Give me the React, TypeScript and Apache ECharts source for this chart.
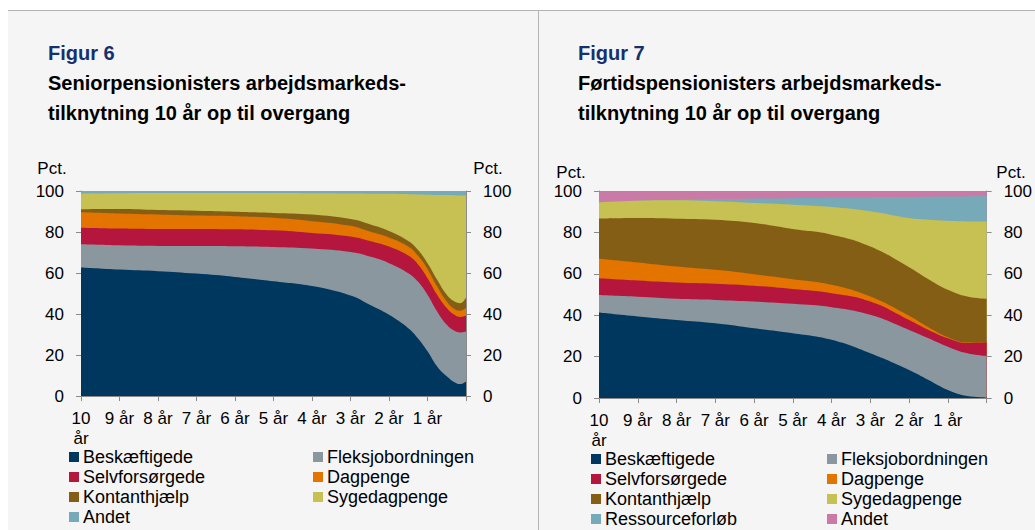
import React, { useEffect, useRef } from "react";
import * as echarts from "echarts";

// ---- Data ----
const seriesNamesFig6 = ["Beskæftigede", "Fleksjobordningen", "Selvforsørgede", "Dagpenge", "Kontanthjælp", "Sygedagpenge", "Andet"];
const seriesColorsFig6 = ["#00375F", "#8B979F", "#B5163E", "#E37400", "#855E16", "#C6C152", "#77AAB8"];
// years into the 10-year window before transition (0 = 10 år before, 10 = overgang)
const xFig6 = [0, 1, 2, 3, 4, 5, 6, 7, 7.5, 8, 8.5, 8.75, 9, 9.25, 9.5, 9.7, 9.85, 10];
const beskaeftigede6 = [62.7, 61.7, 60.9, 59.7, 58.1, 56.0, 53.6, 49.0, 44.5, 39.6, 33.1, 28.2, 21.8, 14.4, 9.6, 6.7, 5.8, 7.1];
const fleksjob6 = [11.3, 11.8, 12.3, 13.5, 15.0, 16.7, 18.3, 21.2, 23.5, 25.2, 26.8, 27.6, 27.6, 26.8, 25.1, 25.1, 25.2, 24.4];
const selvforsoergede6 = [8.1, 8.2, 8.3, 8.3, 8.2, 8.1, 7.6, 7.6, 7.6, 8.1, 8.6, 8.5, 8.1, 8.2, 8.2, 7.8, 7.5, 7.6];
const dagpenge6 = [7.5, 7.3, 7.0, 6.5, 6.4, 6.1, 5.8, 5.2, 4.6, 4.4, 4.4, 4.2, 4.5, 4.0, 3.2, 2.8, 3.1, 3.8];
const kontanthjaelp6 = [1.5, 2.2, 2.2, 2.4, 2.2, 2.4, 3.2, 3.3, 3.6, 3.2, 2.7, 2.8, 2.8, 3.3, 3.3, 3.7, 3.7, 5.2];
const sygedagpenge6 = [7.6, 7.7, 8.3, 8.6, 9.1, 9.7, 10.4, 12.5, 14.9, 18.1, 22.8, 27.0, 33.4, 41.4, 48.6, 51.8, 52.5, 49.7];
const andet6 = [1.3, 1.1, 1.0, 1.0, 1.0, 1.0, 1.1, 1.2, 1.3, 1.4, 1.6, 1.7, 1.8, 1.9, 2.0, 2.1, 2.2, 2.2];

const seriesNamesFig7 = ["Beskæftigede", "Fleksjobordningen", "Selvforsørgede", "Dagpenge", "Kontanthjælp", "Sygedagpenge", "Ressourceforløb", "Andet"];
const seriesColorsFig7 = ["#00375F", "#8B979F", "#B5163E", "#E37400", "#855E16", "#C6C152", "#77AAB8", "#C97AA6"];
const xFig7 = [0, 1, 2, 3, 4, 5, 6, 7, 8, 8.5, 9, 9.5, 10];
const beskaeftigede7 = [41.3, 39.4, 37.7, 36.1, 33.7, 31.3, 28.1, 21.6, 13.5, 8.7, 3.9, 1.0, 0.3];
const fleksjob7 = [8.4, 9.5, 10.2, 11.3, 12.9, 14.2, 15.8, 18.6, 19.4, 20.2, 20.9, 20.6, 20.0];
const selvforsoergede7 = [8.2, 7.9, 7.9, 7.8, 7.6, 7.1, 6.7, 6.4, 4.8, 4.0, 4.1, 5.0, 6.5];
const dagpenge7 = [9.4, 8.7, 7.7, 6.7, 5.6, 4.8, 4.1, 2.4, 2.0, 1.3, 0.5, 0.2, 0.0];
const kontanthjaelp7 = [19.3, 21.4, 23.1, 24.2, 24.7, 24.2, 24.2, 24.2, 23.5, 23.2, 22.9, 22.2, 21.1];
const sygedagpenge7 = [7.9, 8.4, 8.9, 8.9, 9.7, 11.8, 13.4, 17.0, 23.7, 28.7, 33.3, 36.3, 37.4];
const ressourceforloeb7 = [0, 0, 0.3, 1.1, 2.1, 3.1, 4.5, 6.7, 10.2, 11.1, 11.7, 12.1, 12.3];
const andet7 = [5.5, 4.7, 4.2, 3.9, 3.7, 3.5, 3.2, 3.1, 2.9, 2.8, 2.7, 2.6, 2.4];

const xTickLabels = ["10\når", "9 år", "8 år", "7 år", "6 år", "5 år", "4 år", "3 år", "2 år", "1 år", ""];
const yTicks = { min: 0, max: 100, interval: 20 };

const FONT = '"Liberation Sans", Arial, Helvetica, sans-serif';

// Stacked areas: each series is drawn as its cumulative top, filled down to the axis,
// painted from the top layer downwards so that lower layers cover the upper ones.
function buildSeries(names: string[], colors: string[], xs: number[], values: number[][], gridIdx: number) {
  const cumulative: number[][] = [];
  values.forEach((arr, i) => {
    cumulative.push(arr.map((v, j) => (i === 0 ? v : cumulative[i - 1][j] + v)));
  });
  const out: any[] = [];
  for (let i = names.length - 1; i >= 0; i--) {
    out.push({
      name: names[i],
      type: "line",
      xAxisIndex: gridIdx,
      yAxisIndex: gridIdx * 2,
      smooth: 0.45,
      showSymbol: false,
      symbol: "none",
      z: 2 + (names.length - i) * 0.01,
      lineStyle: { width: 0 },
      itemStyle: { color: colors[i] },
      areaStyle: { color: colors[i], opacity: 1, origin: "start" },
      data: xs.map((x, j) => [x, Math.round(cumulative[i][j] * 100) / 100]),
    });
  }
  return out;
}

function buildLegends(names: string[], colors: string[], leftCol: number, rightCol: number, top: number) {
  const col1: any[] = [];
  const col2: any[] = [];
  names.forEach((n, i) => {
    const item = { name: n, itemStyle: { color: colors[i] } };
    if (i % 2 === 0) col1.push(item);
    else col2.push(item);
  });
  const base = {
    orient: "vertical",
    top,
    padding: 0,
    itemWidth: 10,
    itemHeight: 10,
    itemGap: 2,
    icon: "rect",
    selectedMode: false,
    textStyle: { fontFamily: FONT, fontSize: 18, color: "#000", lineHeight: 18, padding: [0, 0, 0, -1] },
  };
  return [
    { ...base, left: leftCol, data: col1 },
    { ...base, left: rightCol, data: col2 },
  ];
}

function xAxisFor(gridIndex: number) {
  return {
    type: "value",
    gridIndex,
    min: 0,
    max: 10,
    interval: 1,
    axisLine: { show: true, lineStyle: { color: "#8a8a8a", width: 1 } },
    axisTick: { show: true, length: 5, lineStyle: { color: "#8a8a8a" } },
    splitLine: { show: false },
    axisLabel: {
      margin: 12,
      fontFamily: FONT,
      fontSize: 17,
      lineHeight: 20,
      color: "#000",
      showMaxLabel: true,
      showMinLabel: true,
      formatter: (v: number) => xTickLabels[Math.round(v)] ?? "",
    },
  };
}

function yAxisFor(gridIndex: number, position: "left" | "right") {
  return {
    type: "value",
    gridIndex,
    position,
    ...yTicks,
    axisLine: { show: true, lineStyle: { color: "#8a8a8a", width: 1 } },
    axisTick: { show: true, length: 5, lineStyle: { color: "#8a8a8a" } },
    splitLine: { show: false },
    axisLabel: { margin: 17, fontFamily: FONT, fontSize: 17, color: "#000" },
  };
}

function textEl(text: string, x: number, y: number, opts: any = {}) {
  return {
    type: "text",
    x,
    y,
    silent: true,
    style: {
      text,
      fill: opts.fill || "#000",
      font: opts.font || `17px ${FONT}`,
      align: opts.align || "left",
      verticalAlign: "middle",
    },
  };
}

export default function App() {
  const ref = useRef<HTMLDivElement>(null);
  useEffect(() => {
    document.body.style.margin = "0";
    if (!ref.current) return;
    const chart = echarts.init(ref.current, undefined, { renderer: "svg" });
    const values6 = [beskaeftigede6, fleksjob6, selvforsoergede6, dagpenge6, kontanthjaelp6, sygedagpenge6, andet6];
    const values7 = [beskaeftigede7, fleksjob7, selvforsoergede7, dagpenge7, kontanthjaelp7, sygedagpenge7, ressourceforloeb7, andet7];
    const titleFont = `bold 20px ${FONT}`;
    const option: any = {
      animation: false,
      backgroundColor: "#ffffff",
      graphic: [
        { type: "rect", silent: true, z: -10, shape: { x: 8, y: 10, width: 1027, height: 520 }, style: { fill: "#f5f5f5" } },
        { type: "line", silent: true, z: -9, shape: { x1: 8, y1: 10.5, x2: 1035, y2: 10.5 }, style: { stroke: "#b3b3b3", lineWidth: 1 } },
        { type: "line", silent: true, z: -9, shape: { x1: 538.5, y1: 10, x2: 538.5, y2: 530 }, style: { stroke: "#b3b3b3", lineWidth: 1 } },
        textEl("Figur 6", 48, 53, { font: titleFont, fill: "#14306E" }),
        textEl("Seniorpensionisters arbejdsmarkeds-", 48, 83, { font: titleFont }),
        textEl("tilknytning 10 år op til overgang", 48, 113, { font: titleFont }),
        textEl("Figur 7", 578, 53, { font: titleFont, fill: "#14306E" }),
        textEl("Førtidspensionisters arbejdsmarkeds-", 578, 83, { font: titleFont }),
        textEl("tilknytning 10 år op til overgang", 578, 113, { font: titleFont }),
        textEl("Pct.", 52, 168, { align: "center" }),
        textEl("Pct.", 488, 168, { align: "center" }),
        textEl("Pct.", 571, 172, { align: "center" }),
        textEl("Pct.", 1011, 172, { align: "center" }),
      ],
      grid: [
        { left: 81, top: 191, width: 385, height: 205 },
        { left: 599, top: 191, width: 389, height: 207 },
      ],
      xAxis: [xAxisFor(0), xAxisFor(1)],
      yAxis: [yAxisFor(0, "left"), yAxisFor(0, "right"), yAxisFor(1, "left"), yAxisFor(1, "right")],
      legend: [
        ...buildLegends(seriesNamesFig6, seriesColorsFig6, 69, 313, 448),
        ...buildLegends(seriesNamesFig7, seriesColorsFig7, 591, 827, 450),
      ],
      series: [
        ...buildSeries(seriesNamesFig6, seriesColorsFig6, xFig6, values6, 0),
        ...buildSeries(seriesNamesFig7, seriesColorsFig7, xFig7, values7, 1),
      ],
    };
    chart.setOption(option);
    return () => chart.dispose();
  }, []);
  return <div ref={ref} style={{ position: "absolute", left: 0, top: 0, width: 1035, height: 530 }} />;
}
